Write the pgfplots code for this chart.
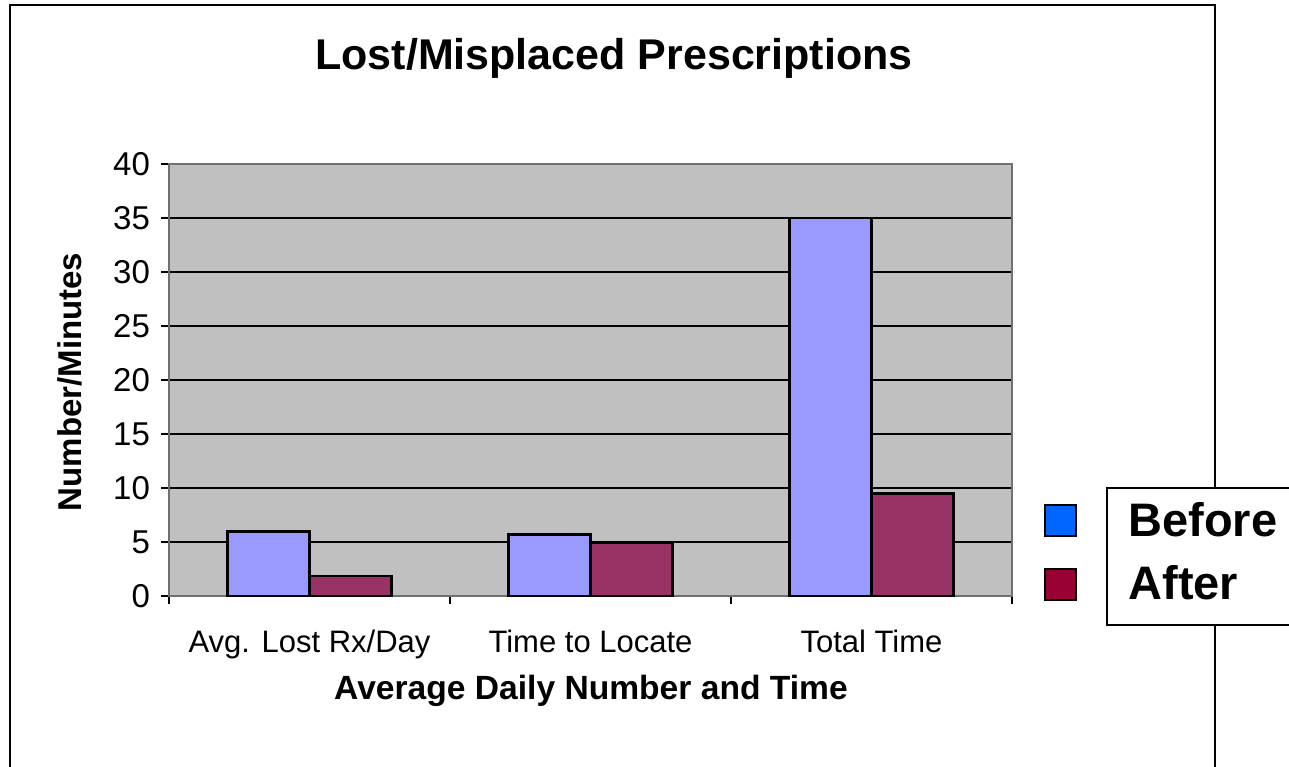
\documentclass[border=0pt]{standalone}
\usepackage{fontspec}
\setmainfont{Liberation Sans}
\usepackage{pgfplots}
\pgfplotsset{compat=1.18}
\definecolor{bgray}{HTML}{C0C0C0}
\definecolor{beforebar}{HTML}{9999FF}
\definecolor{afterbar}{HTML}{993366}
\definecolor{beforekey}{HTML}{0066FF}
\definecolor{afterkey}{HTML}{990033}
\definecolor{axgray}{HTML}{707070}
\begin{document}
\begin{tikzpicture}[x=1pt,y=1pt]
\useasboundingbox (0,0) rectangle (644.5,383);
\draw[line width=1pt] (5,-10) rectangle (607.5,380.5);
\begin{axis}[
  at={(84.5pt,85pt)}, anchor=south west,
  scale only axis, width=421.5pt, height=216pt,
  ybar=0pt, bar width=41pt,
  xmin=-0.5, xmax=2.5, ymin=0, ymax=40,
  xtick={0,1,2},
  xticklabels={Avg. Lost Rx/Day, Time to Locate, Total Time},
  minor xtick={-0.5,0.5,1.5,2.5},
  ytick={0,5,...,40},
  tick align=outside,
  xtick pos=bottom, ytick pos=left,
  major tick length=4pt, minor tick length=4pt,
  major x tick style={draw=none},
  tick style={black, line width=0.6pt},
  ymajorgrids,
  grid style={black, line width=0.7pt},
  axis background/.style={fill=bgray},
  axis line style={draw=axgray, line width=1.1pt},
  /pgf/number format/assume math mode=true,
  yticklabel style={font=\fontsize{16.5}{19}\selectfont, xshift=-2pt},
  xticklabel style={font=\fontsize{15.5}{18}\selectfont, yshift=-9.5pt},
]
\addplot[fill=beforebar, draw=black, line width=1.4pt] coordinates {(0,6) (1,5.7) (2,35)};
\addplot[fill=afterbar, draw=black, line width=1.4pt] coordinates {(0,1.85) (1,4.9) (2,9.5)};
\end{axis}
\node[font=\bfseries\fontsize{21.5}{25}\selectfont] at (307,354) {Lost/Misplaced Prescriptions};
\node[font=\bfseries\fontsize{16.5}{19}\selectfont, rotate=90] at (35,192) {Number/Minutes};
\node[font=\bfseries\fontsize{16.8}{20}\selectfont] at (295.5,37.5) {Average Daily Number and Time};
% legend
\draw[black, line width=0.9pt, fill=white] (553.5,70.5) rectangle (660,139);
\draw[black, line width=0.9pt, fill=beforekey] (522.5,115) rectangle (538,130.5);
\draw[black, line width=0.9pt, fill=afterkey] (522.5,83) rectangle (538,98.5);
\node[font=\bfseries\fontsize{23.5}{26}\selectfont, anchor=west, inner sep=0pt] at (564,123) {Before};
\node[font=\bfseries\fontsize{23.5}{26}\selectfont, anchor=west, inner sep=0pt] at (564,91.5) {After};
\end{tikzpicture}
\end{document}
